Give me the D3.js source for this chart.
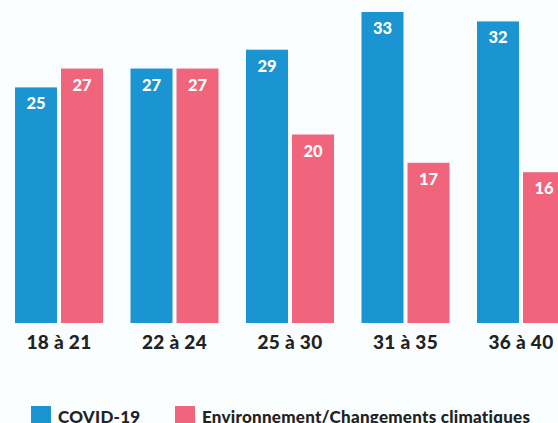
<!DOCTYPE html>
<html><head><meta charset="utf-8">
<script src="https://cdn.jsdelivr.net/npm/d3@7"></script>
<style>html,body{margin:0;padding:0;background:#f9fdfd;}svg{display:block;}</style>
</head><body>
<svg id="chart" width="558" height="423"></svg>
<script>
const categories = ["18 à 21", "22 à 24", "25 à 30", "31 à 35", "36 à 40"];
const seriesNames = ["COVID-19", "Environnement/Changements climatiques"];
const covid = [25, 27, 29, 33, 32];
const environnement = [27, 27, 20, 17, 16];
const colors = ["#1b94d2", "#f0647c"];

const svg = d3.select("#chart");
const font = "Lato, 'Open Sans', sans-serif";

const x0 = d3.scaleBand().domain(categories).range([15, 565]).paddingInner(0.238).paddingOuter(0).align(0);
const x1 = d3.scaleBand().domain(seriesNames).range([0, x0.bandwidth()]).paddingInner(0.087).paddingOuter(0);
const y = d3.scaleLinear().domain([0, 33]).range([323, 12]);

const data = categories.map((c, i) => ({cat: c, vals: [covid[i], environnement[i]]}));

const g = svg.append("g");
const groups = g.selectAll("g.grp").data(data).join("g")
  .attr("transform", d => `translate(${x0(d.cat)},0)`);
groups.selectAll("rect").data(d => d.vals.map((v, j) => ({s: seriesNames[j], v, j}))).join("rect")
  .attr("x", d => x1(d.s)).attr("width", x1.bandwidth())
  .attr("y", d => y(d.v)).attr("height", d => y(0) - y(d.v))
  .attr("fill", d => colors[d.j]);
groups.selectAll("text").data(d => d.vals.map((v, j) => ({s: seriesNames[j], v, j}))).join("text")
  .attr("x", d => x1(d.s) + x1.bandwidth() / 2)
  .attr("y", d => y(d.v) + 22)
  .attr("text-anchor", "middle")
  .attr("fill", "#fff")
  .style("font-family", font).style("font-weight", 900).style("font-size", "16.5px")
  .text(d => d.v);

// category axis labels (centered under each group)
const xAxis = d3.axisBottom(x0).tickSize(0).tickPadding(0);
const ax = svg.append("g").attr("transform", "translate(0,335)").call(xAxis);
ax.select(".domain").remove();
ax.selectAll("text").attr("fill", "#222").attr("dy", "0.72em")
  .style("font-family", font).style("font-weight", 900).style("font-size", "19px")
  .style("letter-spacing", "0.3px");

// legend
const legX = [31, 175];
const leg = svg.append("g");
seriesNames.forEach((n, i) => {
  leg.append("rect").attr("x", legX[i]).attr("y", 406).attr("width", 20).attr("height", 20).attr("fill", colors[i]);
  leg.append("text").attr("x", legX[i] + 27).attr("y", 422.5)
    .attr("fill", "#222")
    .style("font-family", font).style("font-weight", 900).style("font-size", "17px")
    .style("letter-spacing", "0.25px")
    .text(n);
});
</script>
</body></html>
